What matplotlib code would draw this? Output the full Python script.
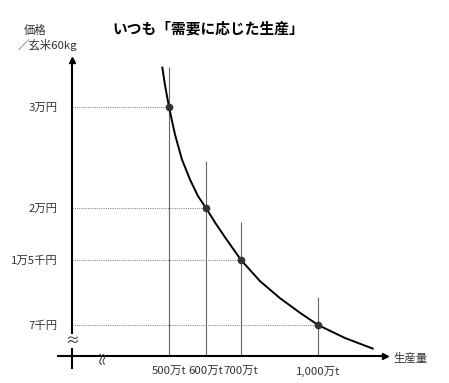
import numpy as np
import matplotlib
matplotlib.use("Agg")
import matplotlib.pyplot as plt

plt.rcParams['font.family'] = ['Noto Sans CJK JP', 'DejaVu Sans']

# data (production in 万t, price in 円 per 60kg of brown rice)
production = [500, 600, 700, 1000]
price = [30000, 20000, 15000, 7000]
x_labels = ["500万t", "600万t", "700万t", "1,000万t"]
y_labels = ["3万円", "2万円", "1万5千円", "7千円"]
guide_top = [34000, 24700, 18700, 10400]   # where each vertical guide stops

# demand curve
curve_x = [482, 489, 500, 516, 535, 557, 578, 600, 626, 654, 700,
           774, 852, 930, 1000, 1105, 1213]
curve_y = [33900, 32200, 30000, 27300, 24800, 22800, 21200, 20000, 18600, 17200, 15000,
           12400, 10300, 8500, 7000, 5400, 4100]

# schematic axes: tick spacing is not linear, so map through the tick layout
x_tick_pos = [97, 134, 169, 246]   # px right of the price axis, same order as production
y_tick_pos = [249, 148, 96, 31]    # px above the production axis, same order as price


def interp_ext(v, xp, fp):
    v = np.asarray(v, dtype=float)
    out = np.interp(v, xp, fp)
    lo = (fp[1] - fp[0]) / (xp[1] - xp[0])
    hi = (fp[-1] - fp[-2]) / (xp[-1] - xp[-2])
    out = np.where(v < xp[0], fp[0] + (v - xp[0]) * lo, out)
    out = np.where(v > xp[-1], fp[-1] + (v - xp[-1]) * hi, out)
    return out


def make_scale(vals, pos):
    vals = np.asarray(vals, dtype=float)
    pos = np.asarray(pos, dtype=float)
    order = np.argsort(vals)
    vals, pos = vals[order], pos[order]
    return (lambda v: interp_ext(v, vals, pos)), (lambda p: interp_ext(p, pos, vals))


W, H = 449, 383
fig = plt.figure(figsize=(W / 100, H / 100), dpi=100)
ax_l, ax_b, ax_r, ax_t = 72, 356, 385, 60
ax = fig.add_axes([ax_l / W, 1 - ax_b / H, (ax_r - ax_l) / W, (ax_b - ax_t) / H])

fx, ix = make_scale(production, x_tick_pos)
fy, iy = make_scale(price, y_tick_pos)
ax.set_xscale('function', functions=(fx, ix))
ax.set_yscale('function', functions=(fy, iy))
x0, x1 = float(ix(0)), float(ix(ax_r - ax_l))
y0, y1 = float(iy(0)), float(iy(ax_b - ax_t))
ax.set_xlim(x0, x1)
ax.set_ylim(y0, y1)

for s in ax.spines.values():
    s.set_visible(False)

label_color = '#333333'
ax.set_xticks(production, labels=x_labels)
ax.set_yticks(price, labels=y_labels)
ax.xaxis.set_minor_locator(matplotlib.ticker.NullLocator())
ax.yaxis.set_minor_locator(matplotlib.ticker.NullLocator())
ax.tick_params(axis='x', length=0, pad=7, labelsize=8.2, labelcolor=label_color)
ax.tick_params(axis='y', length=0, pad=10.5, labelsize=8.2, labelcolor=label_color)

# guides
ax.hlines(price, x0, production, colors='#8a8a8a', linestyles=(0, (1, 1)), lw=0.8)
ax.vlines(production, y0, guide_top, colors='#666666', lw=0.8)

# curve and points
ax.plot(curve_x, curve_y, color='black', lw=1.4, zorder=3)
ax.plot(production, price, 'o', color='#333333', ms=4.5, zorder=4)

# axis lines with arrows
ax.plot([-14 / 313, 1], [0, 0], color='black', lw=1.5, transform=ax.transAxes, clip_on=False)
ax.plot([0, 0], [-12 / 296, 1], color='black', lw=1.5, transform=ax.transAxes, clip_on=False)
ax.plot(1, 0, '>', color='black', ms=4, transform=ax.transAxes, clip_on=False)
ax.plot(0, 1, '^', color='black', ms=4, transform=ax.transAxes, clip_on=False)

# axis break marks
fig.text(72 / W, 1 - 341 / H, "≈", ha='center', va='center', fontsize=10,
         color='#333333', bbox=dict(facecolor='white', edgecolor='none', pad=0.2))
fig.text(103 / W, 1 - 357 / H, "≈", ha='center', va='center', fontsize=11,
         rotation=90, color='#333333')

# titles and axis names
fig.text(208 / W, 1 - 29 / H, "いつも「需要に応じた生産」", ha='center', va='center',
         fontsize=10.6, fontweight='bold', color='black')
fig.text(35.5 / W, 1 - 30 / H, "価格", ha='center', va='center', fontsize=8.2,
         color=label_color)
fig.text(47.5 / W, 1 - 45 / H, "／玄米60kg", ha='center', va='center', fontsize=8.2,
         color=label_color)
fig.text(393 / W, 1 - 358 / H, "生産量", ha='left', va='center', fontsize=8.2,
         color=label_color)

fig.savefig("out.png", dpi=100, facecolor='white')
